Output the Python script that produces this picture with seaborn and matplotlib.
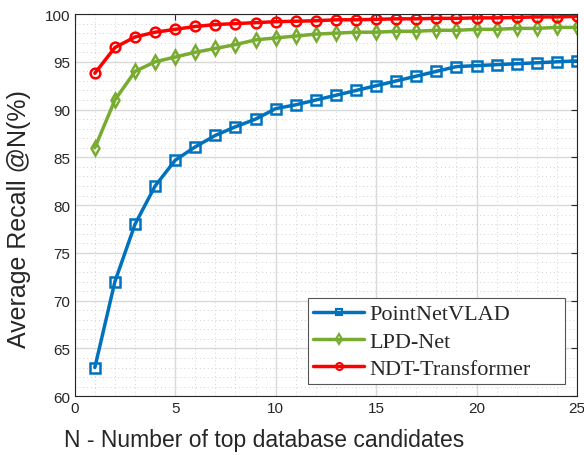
import pandas as pd
import seaborn as sns
from matplotlib import pyplot as plt
from matplotlib.ticker import MultipleLocator

# recall @N for N = 1..25
n_candidates = list(range(1, 26))
pointnetvlad = [63.0, 72.0, 78.0, 82.0, 84.7, 86.1, 87.3, 88.2, 89.0, 90.1,
                90.5, 91.0, 91.5, 92.0, 92.5, 93.0, 93.5, 94.0, 94.5, 94.6,
                94.7, 94.8, 94.9, 95.0, 95.1]
lpd_net = [86.0, 91.0, 94.0, 95.0, 95.5, 96.0, 96.4, 96.8, 97.3, 97.5,
           97.7, 97.9, 98.0, 98.1, 98.1, 98.2, 98.2, 98.3, 98.3, 98.4,
           98.4, 98.5, 98.5, 98.6, 98.6]
ndt_transformer = [93.8, 96.5, 97.6, 98.1, 98.4, 98.7, 98.9, 99.0, 99.1, 99.2,
                   99.25, 99.3, 99.4, 99.4, 99.45, 99.5, 99.5, 99.55, 99.55, 99.6,
                   99.6, 99.65, 99.7, 99.7, 99.75]

methods = ["PointNetVLAD", "LPD-Net", "NDT-Transformer"]
colors = {"PointNetVLAD": "#0072BD", "LPD-Net": "#77AC30", "NDT-Transformer": "#FF0000"}
markers = {"PointNetVLAD": "s", "LPD-Net": "d", "NDT-Transformer": "o"}

df = pd.DataFrame({
    "N": n_candidates * 3,
    "Recall": pointnetvlad + lpd_net + ndt_transformer,
    "Method": [m for m in methods for _ in n_candidates],
})

sns.set_style("white")
plt.rcParams["font.family"] = ["Liberation Sans", "DejaVu Sans"]

fig = plt.figure(figsize=(5.84, 4.56), dpi=100)
ax = fig.add_axes([0.128, 0.129, 0.860, 0.838])

for m in methods:
    sns.lineplot(data=df[df["Method"] == m], x="N", y="Recall", ax=ax,
                 color=colors[m], marker=markers[m], markersize=7,
                 markerfacecolor="none", markeredgecolor=colors[m],
                 markeredgewidth=1.8, linewidth=2.5, label=m)

ax.set_xlim(0, 25)
ax.set_ylim(60, 100)
ax.xaxis.set_major_locator(MultipleLocator(5))
ax.yaxis.set_major_locator(MultipleLocator(5))
ax.xaxis.set_minor_locator(MultipleLocator(1))
ax.yaxis.set_minor_locator(MultipleLocator(1))
ax.grid(which="major", color="#d9d9d9", linewidth=1.0, linestyle="-")
ax.grid(which="minor", color="#d0d0d0", linewidth=0.7, linestyle=(0, (1, 3)))
ax.set_axisbelow(True)
ax.tick_params(which="both", direction="in", top=True, right=True,
               labelsize=11, colors="#262626", length=4)
ax.tick_params(which="minor", length=0)
for s in ax.spines.values():
    s.set_color("#262626")
    s.set_linewidth(0.8)

ax.set_xlabel("N - Number of top database candidates", fontsize=16.5, color="#262626")
ax.set_ylabel("Average Recall @N(%)", fontsize=18, color="#262626")
ax.xaxis.set_label_coords(0.378, -0.082)
ax.yaxis.set_label_coords(-0.088, 0.466)

leg = ax.legend(loc="lower left", bbox_to_anchor=(0.464, 0.031, 0.512, 0.223),
                mode="expand", borderaxespad=0,
                prop={"family": "Liberation Serif", "size": 16}, fancybox=False,
                framealpha=1, edgecolor="#555555", handlelength=2.3,
                handletextpad=0.2, borderpad=0.25, labelspacing=0.3)
leg.get_frame().set_linewidth(0.8)
for h in leg.legend_handles:
    h.set_markersize(5)
    h.set_markeredgewidth(1.5)

fig.savefig("out.png", dpi=100)
